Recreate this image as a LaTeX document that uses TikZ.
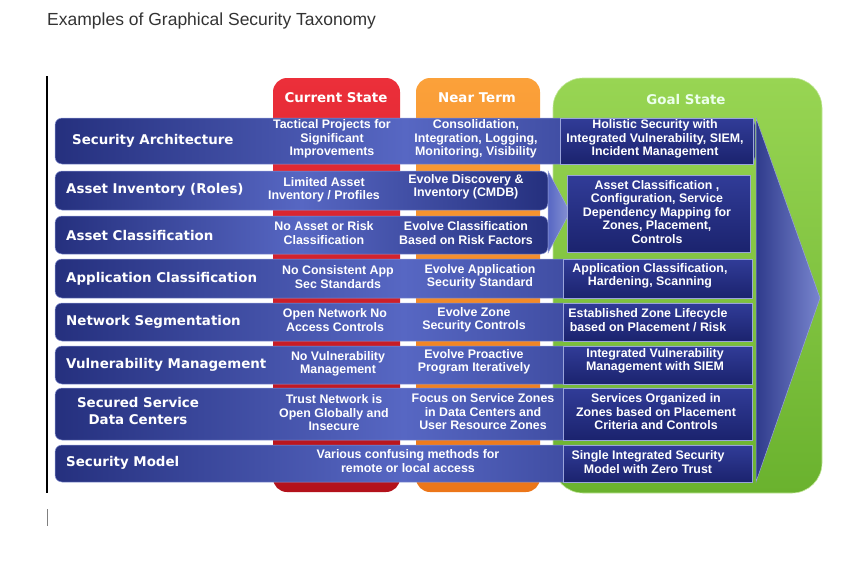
\documentclass[tikz,border=0pt]{standalone}
\usepackage{fontspec}
\setmainfont{Liberation Sans}
\newfontfamily\labfont{DejaVu Sans}
\definecolor{rowdark}{HTML}{25307E}
\definecolor{rowlight}{HTML}{5767C3}
\definecolor{goaldark}{HTML}{1B236E}
\definecolor{goalmid}{HTML}{313C98}
\definecolor{redtop}{HTML}{EC2F3A}
\definecolor{redbot}{HTML}{B3121B}
\definecolor{orgtop}{HTML}{FBA13A}
\definecolor{orgbot}{HTML}{EC7619}
\definecolor{grntop}{HTML}{98D553}
\definecolor{grnbot}{HTML}{6AB22E}
\definecolor{titlegray}{HTML}{333333}
\tikzset{
  cell/.style={font=\bfseries\fontsize{12.4}{13.5}\selectfont, text=white, align=center, inner sep=0pt},
  lab/.style={font=\labfont\bfseries\fontsize{13.4}{16}\selectfont, text=white, anchor=west, inner sep=0pt},
  head/.style={font=\labfont\bfseries\fontsize{13.4}{16}\selectfont, inner sep=0pt},
  rowbar/.style={rounded corners=7pt, left color=rowdark, right color=rowdark, middle color=rowlight, draw=rowlight!70!white, line width=0.5pt},
  goalbox/.style={top color=goalmid, bottom color=goaldark, draw=rowlight!60!white, line width=0.5pt},
}
\begin{document}
\begin{tikzpicture}[x=1pt,y=-1pt]
\useasboundingbox (0,0) rectangle (855,562);
% title
\node[anchor=west, inner sep=0pt, font=\fontsize{17.5}{19}\selectfont, text=titlegray] (title) at (47,21) {Examples of Graphical Security Taxonomy};
% frame lines
\draw[line width=1.6pt] (47,76) -- (47,493);
\draw[line width=0.6pt, gray] (47,509) -- (47,526);
% columns
\shade[rounded corners=14pt, top color=redtop, bottom color=redbot] (273,78) rectangle (400,492);
\shade[rounded corners=14pt, top color=orgtop, bottom color=orgbot] (416,78) rectangle (540,492);
\shade[rounded corners=30pt, top color=grntop, bottom color=grnbot, draw=grntop!60!white, line width=0.6pt] (553,78) rectangle (822,493);
\node[head, text=white] (hcur) at (336,98) {Current State};
\node[head, text=white] (hnear) at (477,98) {Near Term};
\node[head, text=green!8!white] (hgoal) at (686,100) {Goal State};
% big arrow
\shade[left color=rowdark!80!rowlight, right color=rowlight!80!white, draw=rowlight!60!white, line width=0.5pt] (756,118) -- (820,298) -- (756,482) -- cycle;
% rows
\path[rowbar] (55,118) rectangle (755,164);
\path[rowbar] (55,171) rectangle (548,210);
\path[rowbar] (55,216) rectangle (548,254);
\path[rowbar] (55,259) rectangle (752,298);
\path[rowbar] (55,303) rectangle (752,341);
\path[rowbar] (55,346) rectangle (752,384);
\path[rowbar] (55,388) rectangle (752,440);
\path[rowbar] (55,445) rectangle (752,482);
% small chevron
\shade[left color=rowlight, right color=rowlight!70!white, draw=rowlight!60!white, line width=0.5pt] (548,171) -- (570,212) -- (548,253) -- cycle;
% goal boxes
\path[goalbox] (560,118) rectangle (753,164);
\path[goalbox] (567,175) rectangle (750,252);
\path[goalbox] (563,259) rectangle (752,298);
\path[goalbox] (563,303) rectangle (752,341);
\path[goalbox] (563,346) rectangle (752,384);
\path[goalbox] (563,388) rectangle (752,440);
\path[goalbox] (563,445) rectangle (752,482);
% labels
\node[lab] (l1) at (72,141) {Security Architecture};
\node[lab] (l2) at (66,190) {Asset Inventory (Roles)};
\node[lab] (l3) at (66,236) {Asset Classification};
\node[lab] (l4) at (66,279) {Application Classification};
\node[lab] (l5) at (66,322) {Network Segmentation};
\node[lab] (l6) at (66,365) {Vulnerability Management};
\node[lab, anchor=center, align=center, font=\labfont\bfseries\fontsize{13.4}{17}\selectfont] (l7) at (138,411) {Secured Service\\Data Centers};
\node[lab] (l8) at (66,463) {Security Model};
% row 1
\node[cell] (c1) at (332,139) {Tactical Projects for\\Significant\\Improvements};
\node[cell] (n1) at (476,139) {Consolidation,\\Integration, Logging,\\Monitoring, Visibility};
\node[cell] (g1) at (655,139) {Holistic Security with\\Integrated Vulnerability, SIEM,\\Incident Management};
% row 2/3
\node[cell] (c2) at (324,190) {Limited Asset\\Inventory / Profiles};
\node[cell] (n2) at (466,187) {Evolve Discovery \&\\Inventory (CMDB)};
\node[cell] (c3) at (324,233) {No Asset or Risk\\Classification};
\node[cell] (n3) at (466,233) {Evolve Classification\\Based on Risk Factors};
\node[cell] (g2) at (657,212) {Asset Classification ,\\Configuration, Service\\Dependency Mapping for\\Zones, Placement,\\Controls};
% row 4
\node[cell] (c4) at (338,277) {No Consistent App\\Sec Standards};
\node[cell] (n4) at (480,277) {Evolve Application\\Security Standard};
\node[cell] (g4) at (650,276) {Application Classification,\\Hardening, Scanning};
% row 5
\node[cell] (c5) at (335,320) {Open Network No\\Access Controls};
\node[cell] (n5) at (474,320) {Evolve Zone\\Security Controls};
\node[cell] (g5) at (648,320) {Established Zone Lifecycle\\based on Placement / Risk};
% row 6
\node[cell] (c6) at (338,364) {No Vulnerability\\Management};
\node[cell] (n6) at (474,362) {Evolve Proactive\\Program Iteratively};
\node[cell] (g6) at (655,361) {Integrated Vulnerability\\Management with SIEM};
% row 7
\node[cell] (c7) at (334,413) {Trust Network is\\Open Globally and\\Insecure};
\node[cell] (n7) at (483,412) {Focus on Service Zones\\in Data Centers and\\User Resource Zones};
\node[cell] (g7) at (656,412) {Services Organized in\\Zones based on Placement\\Criteria and Controls};
% row 8
\node[cell] (c8) at (408,461) {Various confusing methods for\\remote or local access};
\node[cell] (g8) at (648,462) {Single Integrated Security\\Model with Zero Trust};
\end{tikzpicture}
\end{document}
